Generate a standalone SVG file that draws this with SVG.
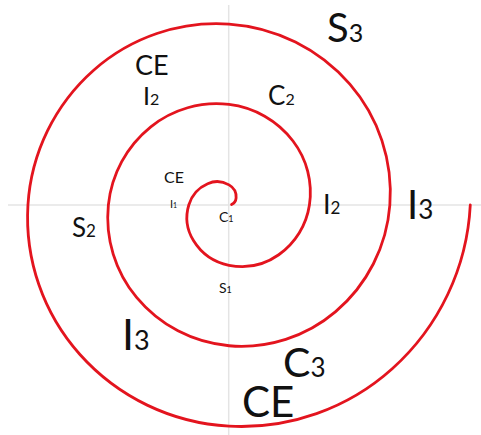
<svg xmlns="http://www.w3.org/2000/svg" width="481" height="435" viewBox="0 0 481 435">
<style>
.axis{stroke:#e4e4e4;stroke-width:1.5;fill:none}
.spiral{stroke:#e3141e;stroke-width:2.8;fill:none;stroke-linecap:round}
text{font-family:Lato,"Open Sans","Liberation Sans",sans-serif;fill:#111}
</style>
<rect width="481" height="435" fill="#fff"/>
<g id="axes">
<line class="axis" x1="228.7" y1="5" x2="228.7" y2="435"/>
<line class="axis" x1="8" y1="205" x2="481" y2="205"/>
</g>
<g id="spiral">
<path class="spiral" d="M231.55 204.49 A7.9 7.9 0 0 0 236.11 197.89 A13.94 13.94 0 0 0 229 184.89 A23.38 23.38 0 0 0 207.67 183.67 A33.53 33.53 0 0 0 188.79 205 A43.77 43.77 0 0 0 193.45 240.55 A54 54 0 0 0 229 265.32 A64.2 64.2 0 0 0 278.76 254.76 A74.4 74.4 0 0 0 309.42 205 A84.5 84.5 0 0 0 292.98 141.02 A94.64 94.64 0 0 0 229 104.47 A104.78 104.78 0 0 0 150.81 126.81 A114.9 114.9 0 0 0 108.36 205 A125.01 125.01 0 0 0 136.59 297.41 A135.12 135.12 0 0 0 229 345.74 A145.21 145.21 0 0 0 335.63 311.63 A155.29 155.29 0 0 0 389.85 205 A165.39 165.39 0 0 0 349.84 84.16 A175.46 175.46 0 0 0 229 24.05 A185.54 185.54 0 0 0 93.94 69.94 A195.62 195.62 0 0 0 27.94 205 A205.69 205.69 0 0 0 79.72 354.28 A215.76 215.76 0 0 0 229 426.17 A225.84 225.84 0 0 0 392.5 368.5 A235.9 235.9 0 0 0 470.27 205"/>
</g>
<g id="labels">
<text id="S3" x="327" y="42" font-size="40">S<tspan font-size="25">3</tspan></text>
<text id="CE-top" x="135" y="75" font-size="27">CE</text>
<text id="I2-top" x="143" y="105" font-size="25">I<tspan font-size="16">2</tspan></text>
<text id="C2" x="268" y="105" font-size="26">C<tspan font-size="16">2</tspan></text>
<text id="CE-inner" x="164" y="183" font-size="16">CE</text>
<text id="I1" x="170" y="208" font-size="11">I<tspan font-size="7">1</tspan></text>
<text id="C1" x="219" y="222" font-size="14">C<tspan font-size="9">1</tspan></text>
<text id="S1" x="219" y="293" font-size="14">S<tspan font-size="9">1</tspan></text>
<text id="I2-right" x="323" y="214" font-size="27">I<tspan font-size="17">2</tspan></text>
<text id="I3-right" x="407" y="219" font-size="40">I<tspan font-size="26">3</tspan></text>
<text id="S2" x="72" y="237" font-size="26">S<tspan font-size="17">2</tspan></text>
<text id="I3-left" x="122" y="350" font-size="43">I<tspan font-size="27">3</tspan></text>
<text id="C3" x="283" y="377" font-size="41">C<tspan font-size="26">3</tspan></text>
<text id="CE-bottom" x="242" y="417" font-size="42">CE</text>
</g>
</svg>
